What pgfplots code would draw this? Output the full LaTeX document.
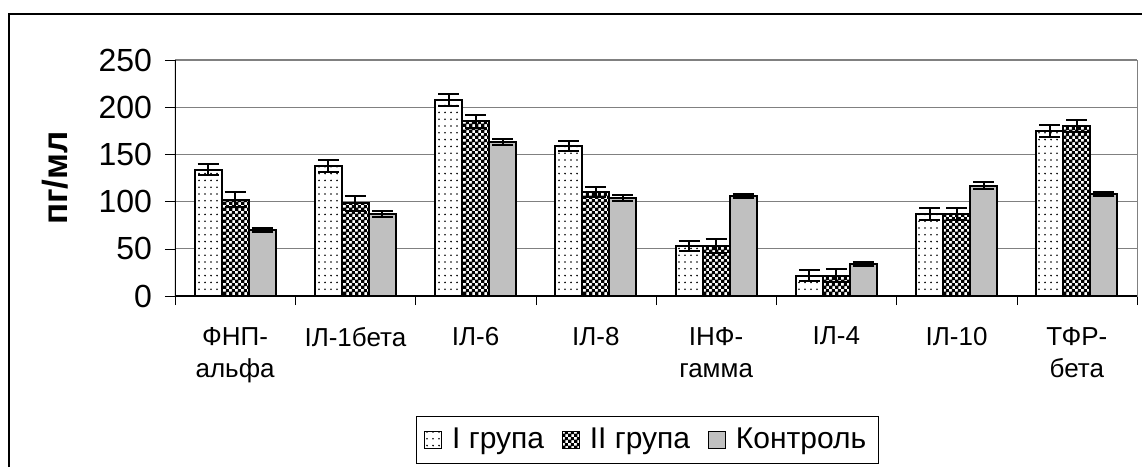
\documentclass[border=0pt]{standalone}
\usepackage{pgfplots}
\pgfplotsset{compat=1.18}
\usepackage{pgfplotstable}
\usepackage{fontspec}
\setmainfont{Liberation Sans}
\usetikzlibrary{patterns}
\pgfdeclarepatternformonly{sparsedots}{\pgfqpoint{-1pt}{-1pt}}{\pgfqpoint{2pt}{2pt}}{\pgfqpoint{3pt}{3.4pt}}{\pgfpathcircle{\pgfqpoint{0.5pt}{0.5pt}}{0.45pt}\pgfusepath{fill}}
\pgfdeclarepatternformonly{checker}{\pgfqpoint{0pt}{0pt}}{\pgfqpoint{3.2pt}{3.2pt}}{\pgfqpoint{3.2pt}{3.2pt}}{\pgfpathrectangle{\pgfqpoint{0pt}{0pt}}{\pgfqpoint{1.8pt}{1.8pt}}\pgfpathrectangle{\pgfqpoint{1.6pt}{1.6pt}}{\pgfqpoint{1.8pt}{1.8pt}}\pgfusepath{fill}}
\definecolor{ctrl}{HTML}{C0C0C0}
\definecolor{gridc}{HTML}{808080}
\pgfplotstableread{
x a ea b eb c ec
0 134 5.5 102 7.8 70 2
1 138 6.5 98 8 87 3
2 208 6.5 185 7 163 3
3 159 5 110 5.5 104 3
4 53 5 53 7 106 2
5 21.5 6 21.5 7 34 2
6 87 6.5 87 6.5 117 3.5
7 175 6.5 180 6 108 2
}\data
\begin{document}
\begin{tikzpicture}
\path[use as bounding box] (0,0) rectangle (571pt,233.5pt);
\draw[black,line width=1pt] (4.5pt,0) -- (4.5pt,226.5pt) -- (571pt,226.5pt);
\begin{axis}[
  at={(87.5pt,85.5pt)}, anchor=south west,
  scale only axis, width=481pt, height=118pt,
  xmin=-0.5, xmax=7.5, ymin=0, ymax=250,
  ytick={0,50,...,250},
  xtick={0,...,7},
  xticklabels={{ФНП-\\альфа},{ІЛ-1бета},{ІЛ-6},{ІЛ-8},{ІНФ-\\гамма},{ІЛ-4},{ІЛ-10},{ТФР-\\бета}},
  minor xtick={-0.5,0.5,...,7.5},
  xtick pos=bottom, ytick pos=left,
  major x tick style={draw=none},
  minor x tick style={black},
  ytick style={black},
  tick align=outside,
  major tick length=5pt, minor tick length=4.5pt,
  axis line style={gridc},
  ymajorgrids, grid style={gridc, line width=0.6pt},
  /pgf/number format/assume math mode=true,
  yticklabel style={font=\fontsize{16}{19}\selectfont, xshift=-3pt},
  xticklabel style={font=\fontsize{13}{16}\selectfont, align=center, text depth=0pt, yshift=-7pt},
  ylabel={\bfseries пг/мл},
  every axis y label/.style={at={(axis description cs:-0.1247,0.5)}, rotate=90, anchor=center, font=\fontsize{17.5}{20}\selectfont},
  ybar=0pt, bar width=13.5pt,
  legend columns=-1,
  legend style={at={(0.491,-0.61)}, anchor=center, draw=black, line width=0.5pt,
    font=\fontsize{15}{18}\selectfont, inner ysep=4pt, inner xsep=4pt,
    /tikz/every even column/.append style={column sep=7pt},
    /tikz/every odd column/.append style={column sep=3pt}},
  legend image code/.code={\draw[#1, line width=0.5pt] (0pt,-4.2pt) rectangle (8.4pt,4.2pt);},
  error bars/y dir=both, error bars/y explicit,
  error bars/error mark options={black, rotate=90, mark size=5.25pt, line width=1pt},
  error bars/error bar style={black, line width=1pt},
]
\addplot[draw=black, line width=1pt, fill=white, postaction={pattern=sparsedots}] table[x=x, y=a, y error=ea] {\data};
\addplot[draw=black, line width=1pt, fill=white, postaction={pattern=checker}] table[x=x, y=b, y error=eb] {\data};
\addplot[draw=black, line width=1pt, fill=ctrl] table[x=x, y=c, y error=ec] {\data};
\legend{I група, II група, Контроль}
\draw[black, line width=0.8pt] (rel axis cs:0,0) -- (rel axis cs:0,1);
\draw[black, line width=0.8pt] (rel axis cs:0,0) -- (rel axis cs:1,0);
\end{axis}
\end{tikzpicture}
\end{document}
